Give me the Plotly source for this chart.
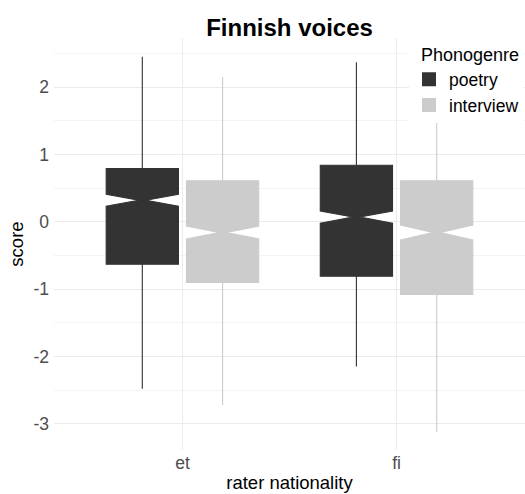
import plotly.graph_objects as go

categories = ["et", "fi"]
y_ticks = [-3, -2, -1, 0, 1, 2]
y_tick_labels = ["-3", "-2", "-1", "0", "1", "2"]

poetry_q1 = [-0.63, -0.81]
poetry_median = [0.32, 0.07]
poetry_q3 = [0.79, 0.84]
poetry_lower = [-2.48, -2.15]
poetry_upper = [2.45, 2.37]
poetry_notch = [0.09, 0.09]

interview_q1 = [-0.90, -1.08]
interview_median = [-0.16, -0.16]
interview_q3 = [0.61, 0.61]
interview_lower = [-2.72, -3.12]
interview_upper = [2.15, 1.58]
interview_notch = [0.095, 0.11]

series = [
    ("poetry", poetry_q1, poetry_median, poetry_q3, poetry_lower, poetry_upper, poetry_notch, "#333333"),
    ("interview", interview_q1, interview_median, interview_q3, interview_lower, interview_upper, interview_notch, "#CCCCCC"),
]

fig = go.Figure()
for name, q1, med, q3, lo, hi, notch, col in series:
    fig.add_trace(go.Box(
        name=name, x=categories, q1=q1, median=med, q3=q3,
        lowerfence=lo, upperfence=hi, notchspan=notch,
        notched=True, notchwidth=0.45, whiskerwidth=0,
        fillcolor=col, line=dict(color=col, width=1.1),
        boxpoints=False, hoverinfo="skip",
    ))

FONT = "Liberation Sans, Arial, sans-serif"
L, R, T, B = 54, 0, 38, 44
fig.update_layout(
    width=525, height=494,
    margin=dict(l=L, r=R, t=T, b=B, autoexpand=False),
    paper_bgcolor="white", plot_bgcolor="white",
    font=dict(family=FONT, size=17.5, color="#4d4d4d"),
    boxmode="group", boxgap=0.25, boxgroupgap=0.1,
    title=dict(text="<b>Finnish voices</b>", x=(L + 525) / 2 / 525, xanchor="center",
               y=1 - 28 / 494, yanchor="middle", yref="container",
               font=dict(size=24, color="black")),
    showlegend=True,
    legend=dict(x=(409 - L) / (525 - L), xanchor="left", y=1.0, yanchor="top",
                bgcolor="white", font=dict(size=17.5, color="black"),
                title=dict(text="&nbsp;&nbsp;Phonogenre", font=dict(size=18, color="black")),
                tracegroupgap=0, itemsizing="constant"),
    xaxis=dict(range=[-0.6, 1.6], showgrid=True, gridcolor="#EBEBEB", gridwidth=1,
               zeroline=False, showline=False, ticks="", automargin=False,
               tickfont=dict(size=17.5, color="#4d4d4d"),
               title=dict(text="rater nationality", standoff=4, font=dict(size=18.5, color="black"))),
    yaxis=dict(range=[-3.39, 2.73], tickvals=y_ticks, ticktext=y_tick_labels,
               showgrid=True, gridcolor="#EBEBEB", gridwidth=1,
               zeroline=False, showline=False, ticks="", automargin=False,
               ticklabelstandoff=4,
               minor=dict(dtick=0.5, showgrid=True, gridcolor="#F4F4F4", gridwidth=0.6),
               tickfont=dict(size=17.5, color="#4d4d4d"),
               title=dict(text="score", standoff=4, font=dict(size=18.5, color="black"))),
)

fig.write_html("out.html", config={"displayModeBar": False},
               post_script="document.body.style.margin='0';document.body.style.padding='0';")
